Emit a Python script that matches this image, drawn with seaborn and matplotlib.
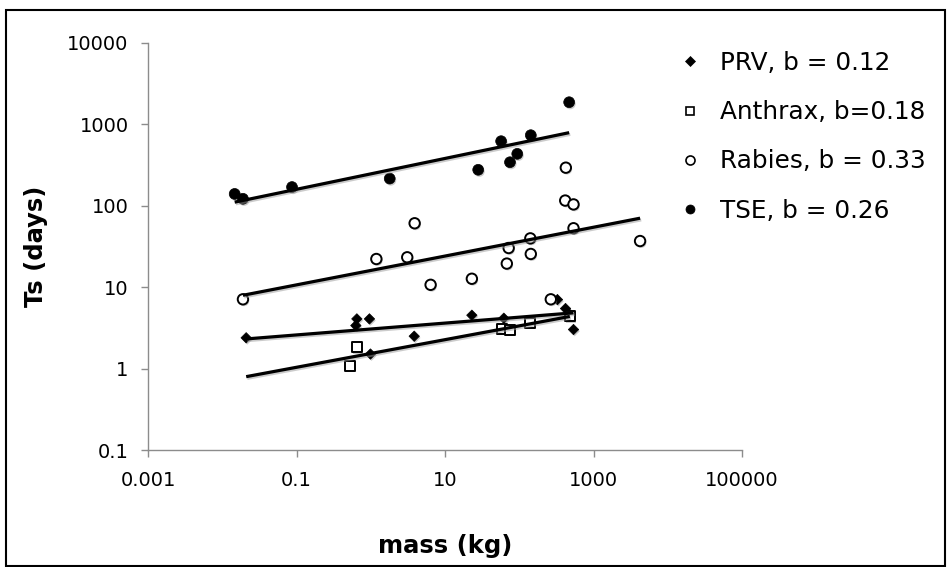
import numpy as np
import pandas as pd
import seaborn as sns
import matplotlib.pyplot as plt
import matplotlib.patheffects as pe
from matplotlib.patches import Rectangle
from matplotlib.ticker import FixedLocator, FuncFormatter, NullLocator

# values (mass in kg, Ts in days)
prv_mass = [0.021, 0.65, 0.63, 0.96, 0.99, 3.85, 23, 62, 327, 420, 465, 538]
prv_ts = [2.39, 4.08, 3.38, 4.08, 1.51, 2.5, 4.53, 4.16, 7.04, 5.47, 4.74, 3.02]

anthrax_mass = [0.65, 0.53, 59, 75, 141, 480]
anthrax_ts = [1.83, 1.09, 3.08, 3.02, 3.65, 4.4]
anthrax_backcast = 0.021  # trendline drawn back to this mass

rabies_mass = [424, 416, 538, 3.9, 538, 1.19, 3.1, 6.4, 23, 72, 141, 68, 143,
               0.019, 266, 4240]
rabies_ts = [294, 116, 104, 61, 53, 22.2, 23.3, 10.7, 12.7, 30.3, 39.8, 19.5,
             25.6, 7.1, 7.1, 36.9]

tse_mass = [0.0147, 0.019, 0.087, 1.8, 28, 57, 75, 94, 143, 470]
tse_ts = [140, 122, 170, 216, 277, 622, 343, 435, 737, 1873]

labels = ["PRV, b = 0.12", "Anthrax, b=0.18", "Rabies, b = 0.33", "TSE, b = 0.26"]

x_ticks = [0.001, 0.1, 10, 1000, 100000]
y_ticks = [0.1, 1, 10, 100, 1000, 10000]

rows = []
for name, m, t in [("PRV", prv_mass, prv_ts), ("Anthrax", anthrax_mass, anthrax_ts),
                   ("Rabies", rabies_mass, rabies_ts), ("TSE", tse_mass, tse_ts)]:
    for a, b in zip(m, t):
        rows.append({"series": name, "mass": a, "ts": b})
df = pd.DataFrame(rows)

sns.set_style("ticks")
plt.rcParams['font.family'] = ['DejaVu Sans']
plt.rcParams['text.color'] = 'black'
plt.rcParams['axes.labelcolor'] = 'black'

fig = plt.figure(figsize=(9.47, 5.67), dpi=100)
ax = fig.add_axes([148 / 947, 1 - 450 / 567, 594 / 947, 407 / 567])

styles = {
    "PRV": dict(marker="D", s=5.3 ** 2, facecolor="black", edgecolor="black", lw=0.5),
    "Anthrax": dict(marker="s", s=7.2 ** 2, facecolor="white", edgecolor="black", lw=1.4),
    "Rabies": dict(marker="o", s=7.5 ** 2, facecolor="white", edgecolor="black", lw=1.4),
    "TSE": dict(marker="o", s=7.8 ** 2, facecolor="black", edgecolor="black", lw=0.5),
}

shadow_pts = [pe.SimplePatchShadow(offset=(0.8, -1.2), shadow_rgbFace="0.6", alpha=0.5), pe.Normal()]
shadow_line = [pe.SimpleLineShadow(offset=(0.8, -1.2), shadow_color="0.6", alpha=0.5), pe.Normal()]

handles = []
for name, lab in zip(["PRV", "Anthrax", "Rabies", "TSE"], labels):
    sub = df[df["series"] == name]
    st = styles[name]
    sns.scatterplot(data=sub, x="mass", y="ts", ax=ax, marker=st["marker"], s=st["s"],
                    color=st["facecolor"], edgecolor=st["edgecolor"], linewidth=st["lw"],
                    zorder=3, legend=False)
    ax.collections[-1].set_path_effects(shadow_pts)

    # power-law trendline, fitted in log space
    lx, ly = np.log10(sub["mass"]), np.log10(sub["ts"])
    k, c = np.polyfit(lx, ly, 1)
    x0 = anthrax_backcast if name == "Anthrax" else sub["mass"].min()
    xs = np.array([x0, sub["mass"].max()])
    ax.plot(xs, 10 ** (c + k * np.log10(xs)), color="black", lw=2.3, zorder=4,
            path_effects=shadow_line, solid_capstyle="butt")

    ms = {"D": 5.0, "s": 6.0, "o": 6.5}[st["marker"]]
    h, = ax.plot([], [], ls="none", marker=st["marker"], ms=ms, mfc=st["facecolor"],
                 mec="black", mew=1.2 if st["facecolor"] == "white" else 0.5, label=lab)
    handles.append(h)

ax.set_xscale("log")
ax.set_yscale("log")
ax.set_xlim(0.001, 100000)
ax.set_ylim(0.1, 10000)
ax.xaxis.set_major_locator(FixedLocator(x_ticks))
ax.yaxis.set_major_locator(FixedLocator(y_ticks))
ax.xaxis.set_minor_locator(NullLocator())
ax.yaxis.set_minor_locator(NullLocator())
fmt = FuncFormatter(lambda v, p: "{:g}".format(v) if v < 1e5 else "100000")
ax.xaxis.set_major_formatter(fmt)
ax.yaxis.set_major_formatter(fmt)
ax.tick_params(axis="both", direction="out", length=5, width=1, color="0.55",
               labelsize=14, labelcolor="black")
ax.tick_params(axis="x", pad=10)
ax.tick_params(axis="y", pad=9)
for side in ["top", "right"]:
    ax.spines[side].set_visible(False)
for side in ["left", "bottom"]:
    ax.spines[side].set_color("0.55")
    ax.spines[side].set_linewidth(1)
ax.grid(False)

ax.set_xlabel("mass (kg)", fontsize=17.5, fontweight="bold", color="black")
ax.set_ylabel("Ts (days)", fontsize=17.5, fontweight="bold", color="black")
ax.xaxis.set_label_coords(0.5, -0.207)
ax.yaxis.set_label_coords(-0.168, 0.5)

fig.legend(handles=handles, loc="upper left", bbox_to_anchor=(0.716, 0.91),
           frameon=False, fontsize=17.8, handlelength=1.0, handletextpad=0.68,
           labelspacing=1.02, borderpad=0, borderaxespad=0)

fig.patches.append(Rectangle((6 / 947, 1 / 567), 939 / 947, 556 / 567,
                             transform=fig.transFigure, fill=False,
                             edgecolor="black", lw=1.5))

fig.savefig("out.png", dpi=100)
